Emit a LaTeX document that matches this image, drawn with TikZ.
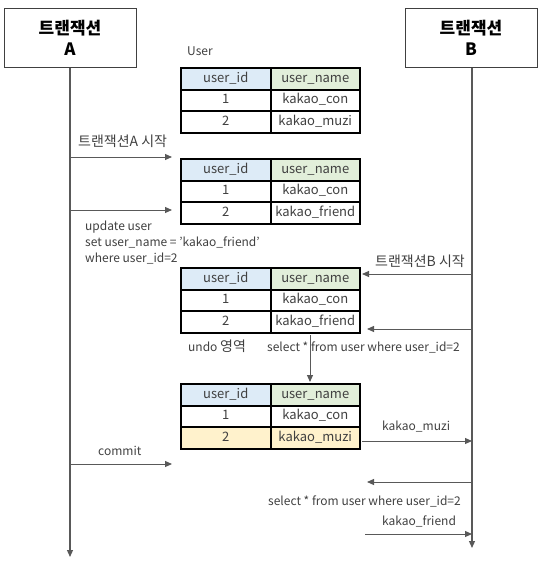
\documentclass[tikz,border=0pt]{standalone}
\usepackage{fontspec}
\setmainfont{Noto Sans CJK KR}
\usetikzlibrary{arrows.meta}
\definecolor{txt}{HTML}{404040}
\definecolor{ln}{HTML}{595959}
\definecolor{bx}{HTML}{404040}
\definecolor{hblue}{HTML}{DDEBF7}
\definecolor{hgreen}{HTML}{E2EFDA}
\definecolor{hyel}{HTML}{FFF2CC}
\newcommand\usertable[4]{%
  \node[idc, minimum height=22pt, fill=hblue] (#1h1) at (180,#2) {user\_id};
  \node[namec, minimum height=22pt, fill=hgreen] (#1h2) at (270,#2) {user\_name};
  \node[idc, minimum height=21pt] (#1a1) at (180,#2+22) {1};
  \node[namec, minimum height=21pt] (#1a2) at (270,#2+22) {kakao\_con};
  \node[idc, minimum height=22pt, fill=#4] (#1b1) at (180,#2+43) {2};
  \node[namec, minimum height=22pt, fill=#4] (#1b2) at (270,#2+43) {#3};
}
\newcommand\kr[1]{{\fontsize{14}{16}\selectfont #1}}
\begin{document}
\begin{tikzpicture}[x=1pt,y=-1pt,
  title/.style={draw=bx, line width=1pt, minimum width=132pt, minimum height=59pt,
    align=center, font=\fontsize{17}{21}\selectfont\bfseries, text=black, inner sep=0pt},
  cell/.style={draw=black, line width=1.5pt, inner sep=0pt,
    anchor=north west, text height=9pt, text depth=2.5pt,
    font=\fontsize{13}{15}\selectfont, text=txt},
  idc/.style={cell, minimum width=90pt},
  namec/.style={cell, minimum width=89pt},
  lbl/.style={anchor=west, inner sep=0pt, text height=8.5pt, text depth=2.5pt,
    font=\fontsize{12}{14}\selectfont, text=txt},
  msg/.style={draw=ln, line width=1pt, -{Triangle[length=7pt,width=6pt]}},
  life/.style={draw=ln, line width=1.2pt, -{Triangle[length=7pt,width=6pt]}}
]
\useasboundingbox (0,0) rectangle (541,566);

\node[title] (A) at (70,37.5) {트랜잭션\\A};
\node[title] (B) at (471,37.5) {트랜잭션\\B};
\coordinate (Aend) at (70,557);
\coordinate (Bend) at (472,548);
\draw[life] (A.south) -- (Aend);
\draw[life] (A.south -| Bend) -- (Bend);

\node[lbl] (userlbl) at (187,52) {User};
\usertable{ta}{67}{kakao\_muzi}{white}
\usertable{tb}{158}{kakao\_friend}{white}
\usertable{tc}{267}{kakao\_friend}{white}
\usertable{td}{383}{kakao\_muzi}{hyel}

% transaction A start
\coordinate (m1s) at (70,157); \coordinate (m1e) at (172,157);
\draw[msg] (m1s) -- (m1e);
\node[lbl] (l1) at (78,143) {\kr{트랜잭션A 시작}};

% update
\coordinate (m2s) at (70,210); \coordinate (m2e) at (172,210);
\draw[msg] (m2s) -- (m2e);
\node[lbl] (u1) at (85,227) {update user};
\node[lbl] (u2) at (85,243) {set user\_name = 'kakao\_friend'};
\node[lbl] (u3) at (85,259) {where user\_id=2};

% transaction B start
\coordinate (m3s) at (472,274); \coordinate (m3e) at (362,274);
\draw[msg] (m3s) -- (m3e);
\node[lbl] (l3) at (375,263) {\kr{트랜잭션B 시작}};

\coordinate (m4s) at (472,329); \coordinate (m4e) at (367,329);
\draw[msg] (m4s) -- (m4e);
\node[lbl] (undo) at (188,348) {undo \kr{영역}};
\node[lbl] (sel1) at (267,348) {select * from user where user\_id=2};

\coordinate (m5s) at (310,335); \coordinate (m5e) at (310,382);
\draw[msg] (m5s) -- (m5e);

\coordinate (m6s) at (362,441); \coordinate (m6e) at (472,441);
\draw[msg] (m6s) -- (m6e);
\node[lbl] (km) at (382,427) {kakao\_muzi};

\coordinate (m7s) at (70,464); \coordinate (m7e) at (172,464);
\draw[msg] (m7s) -- (m7e);
\node[lbl] (commit) at (98,452) {commit};

\coordinate (m8s) at (472,482); \coordinate (m8e) at (367,482);
\draw[msg] (m8s) -- (m8e);
\node[lbl] (sel2) at (268,502) {select * from user where user\_id=2};

\coordinate (m9s) at (365,534); \coordinate (m9e) at (472,534);
\draw[msg] (m9s) -- (m9e);
\node[lbl] (kf) at (382,522) {kakao\_friend};
\end{tikzpicture}
\end{document}
